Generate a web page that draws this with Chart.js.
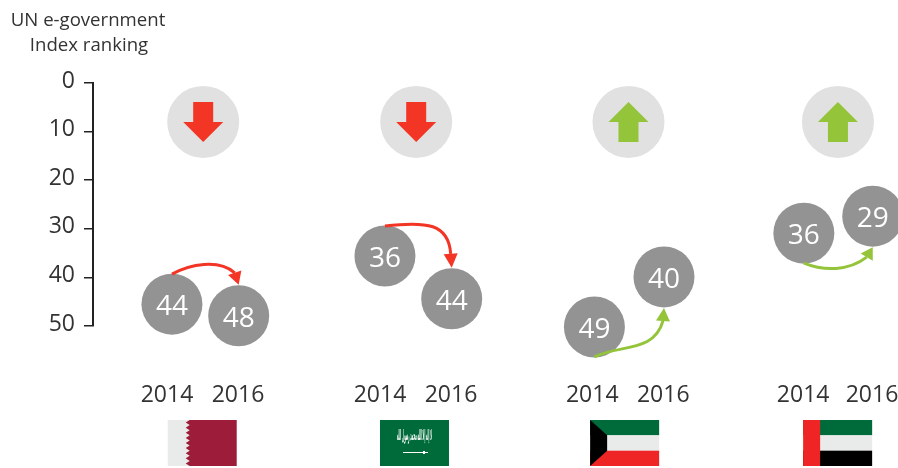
<!DOCTYPE html>
<html>
<head>
<meta charset="utf-8">
<title>UN e-government Index ranking</title>
<script src="https://cdn.jsdelivr.net/npm/chart.js@4/dist/chart.umd.min.js"></script>
<style>
  body { margin: 0; background: #fff; }
  #wrap { width: 898px; height: 468px; }
</style>
</head>
<body>
<div id="wrap"><canvas id="chart" width="898" height="468"></canvas></div>
<script>
const axisTitle = ["UN e-government", "Index ranking"];
const yTicks = [0, 10, 20, 30, 40, 50];
const yearLabels = ["2014", "2016", "2014", "2016", "2014", "2016", "2014", "2016"];
const yearSlots = [0, 1, 3, 4, 5.99, 6.99, 8.96, 9.93];

const countries = ["Qatar", "Saudi Arabia", "Kuwait", "UAE"];
// printed ranks, two per country
const ranks = [44, 48, 36, 44, 49, 40, 36, 29];
// where the circles really sit against the axis in the source (not always on the printed rank)
const plotted = [45.5, 47.9, 35.6, 44.4, 50.2, 39.9, 30.9, 27.4];
const circleSlots = [0.07, 1.01, 3.07, 4.01, 6.02, 7, 8.97, 9.94];

const badgeSlots = [0.51, 3.51, 6.5, 9.45];
const badgeLevel = [8, 8, 8, 8];
const flagSlots = [0.01, 3, 5.96, 8.96];

const RED = "#f23524";
const GREEN = "#93c43a";
const TEXT = "#333333";

// connector shape per country: which side of each circle, then control offsets from each end
const connectors = [
  { from: -1, to: -1, c1: [18, -10], c2: [-16, -14], head: [-4, -12] },
  { from: -1, to: -1, c1: [42, -5], c2: [-2, -30], head: [-1, -14] },
  { from: 1, to: 1, c1: [26, -13], c2: [-9, 32], head: [-1, 13] },
  { from: 1, to: 1, c1: [20, 8], c2: [-18, 14], head: [-6, 10] }
];

const circlePoints = ranks.map((r, i) => ({ x: circleSlots[i], y: plotted[i] }));
const badgePoints = countries.map((c, i) => ({ x: badgeSlots[i], y: badgeLevel[i] }));

function drawBadgeArrow(ctx, cx, cy, down) {
  const s = down ? 1 : -1;
  ctx.fillStyle = down ? RED : GREEN;
  ctx.beginPath();
  ctx.moveTo(cx - 10, cy - 20 * s);
  ctx.lineTo(cx + 10, cy - 20 * s);
  ctx.lineTo(cx + 10, cy);
  ctx.lineTo(cx + 20, cy);
  ctx.lineTo(cx, cy + 20 * s);
  ctx.lineTo(cx - 20, cy);
  ctx.lineTo(cx - 10, cy);
  ctx.closePath();
  ctx.fill();
}

function drawConnector(ctx, a, b, conn, color) {
  const R = 30;
  const sx = a.x, sy = a.y + conn.from * R;
  const tx = b.x, ty = b.y + conn.to * R + conn.to;
  const ex = tx + conn.head[0], ey = ty + conn.head[1];
  ctx.strokeStyle = color;
  ctx.fillStyle = color;
  ctx.lineWidth = 3;
  ctx.beginPath();
  ctx.moveTo(sx, sy);
  ctx.bezierCurveTo(sx + conn.c1[0], sy + conn.c1[1], ex + conn.c2[0], ey + conn.c2[1], ex, ey);
  ctx.stroke();
  // arrow head, pointing from the line end to the circle edge
  const ang = Math.atan2(ty - ey, tx - ex);
  const hw = 7;
  ctx.beginPath();
  ctx.moveTo(tx, ty);
  ctx.lineTo(ex + Math.cos(ang + Math.PI / 2) * hw, ey + Math.sin(ang + Math.PI / 2) * hw);
  ctx.lineTo(ex - Math.cos(ang + Math.PI / 2) * hw, ey - Math.sin(ang + Math.PI / 2) * hw);
  ctx.closePath();
  ctx.fill();
}

function drawFlag(ctx, name, x, y, w, h) {
  const third = h / 3;
  if (name === "Qatar") {
    ctx.fillStyle = "#e9ebea";
    ctx.fillRect(x, y, w, h);
    ctx.fillStyle = "#9d1c3a";
    const teeth = 9, edge = x + 18, step = h / teeth;
    ctx.beginPath();
    ctx.moveTo(x + w, y);
    ctx.lineTo(edge + 4, y);
    for (let i = 0; i < teeth; i++) {
      ctx.lineTo(edge, y + step * (i + 0.5));
      ctx.lineTo(edge + 4, y + step * (i + 1));
    }
    ctx.lineTo(x + w, y + h);
    ctx.closePath();
    ctx.fill();
  } else if (name === "Saudi Arabia") {
    ctx.fillStyle = "#006b3a";
    ctx.fillRect(x, y, w, h);
    ctx.fillStyle = "#fff";
    ctx.font = "bold 15px 'DejaVu Sans'";
    ctx.textAlign = "center";
    ctx.textBaseline = "middle";
    ctx.fillText("لا إله إلا الله محمد رسول الله", x + w / 2, y + 16, 35);
    ctx.fillRect(x + 23, y + 32, 25, 1);
    ctx.fillRect(x + 43, y + 31, 2, 3);
  } else if (name === "Kuwait") {
    ctx.fillStyle = "#006b3a";
    ctx.fillRect(x, y, w, third);
    ctx.fillStyle = "#e9ebea";
    ctx.fillRect(x, y + third, w, third);
    ctx.fillStyle = "#ee2524";
    ctx.fillRect(x, y + 2 * third, w, third);
    ctx.fillStyle = "#000";
    ctx.beginPath();
    ctx.moveTo(x, y);
    ctx.lineTo(x + 17, y + third);
    ctx.lineTo(x + 17, y + 2 * third);
    ctx.lineTo(x, y + h);
    ctx.closePath();
    ctx.fill();
  } else {
    ctx.fillStyle = "#006b3a";
    ctx.fillRect(x, y, w, third);
    ctx.fillStyle = "#e9ebea";
    ctx.fillRect(x, y + third, w, third);
    ctx.fillStyle = "#000";
    ctx.fillRect(x, y + 2 * third, w, third);
    ctx.fillStyle = "#ee2524";
    ctx.fillRect(x, y, 17, h);
  }
}

const extras = {
  id: "extras",
  afterDatasetsDraw(chart) {
    const ctx = chart.ctx;
    const xs = chart.scales.x;
    const pts = chart.getDatasetMeta(1).data;
    const badges = chart.getDatasetMeta(0).data;
    ctx.save();

    ctx.fillStyle = TEXT;
    ctx.font = "18.6px 'Open Sans'";
    ctx.textAlign = "center";
    ctx.textBaseline = "alphabetic";
    ctx.fillText(axisTitle[0], 88, 26);
    ctx.fillText(axisTitle[1], 89, 51);

    countries.forEach((name, i) => {
      const a = pts[i * 2], b = pts[i * 2 + 1];
      const down = ranks[i * 2 + 1] > ranks[i * 2];
      drawBadgeArrow(ctx, badges[i].x, badges[i].y, down);
      drawConnector(ctx, a, b, connectors[i], down ? RED : GREEN);
    });

    ctx.fillStyle = "#fff";
    ctx.font = "28px 'Open Sans'";
    ctx.textAlign = "center";
    ctx.textBaseline = "middle";
    pts.forEach((p, i) => ctx.fillText(String(ranks[i]), p.x, p.y + 3));

    countries.forEach((name, i) => {
      drawFlag(ctx, name, xs.getPixelForValue(flagSlots[i]), 420, 69, 46);
    });
    ctx.restore();
  }
};

new Chart(document.getElementById("chart"), {
  type: "scatter",
  data: {
    datasets: [
      {
        label: "Direction",
        data: badgePoints,
        pointRadius: 36,
        pointHoverRadius: 36,
        pointBackgroundColor: "#e1e1e1",
        pointBorderWidth: 0,
        clip: false
      },
      {
        label: "UN e-government Index ranking",
        data: circlePoints,
        pointRadius: 30.5,
        pointHoverRadius: 30.5,
        pointBackgroundColor: "#939393",
        pointBorderWidth: 0,
        clip: false
      }
    ]
  },
  options: {
    responsive: false,
    animation: false,
    events: [],
    // big points would otherwise shrink the plot area
    layout: { autoPadding: false, padding: { top: 83, left: 0, right: 0, bottom: 0 } },
    plugins: {
      legend: { display: false },
      tooltip: { enabled: false },
      title: { display: false }
    },
    scales: {
      x: {
        type: "linear",
        min: -1.042,
        max: 10.296,
        afterFit(scale) {
          scale.height = 142;
          // year labels may run to the canvas edge, so no room is kept for them
          scale.paddingLeft = 0;
          scale.paddingRight = 0;
        },
        afterBuildTicks(scale) { scale.ticks = yearSlots.map(v => ({ value: v })); },
        grid: { display: false },
        border: { display: false },
        ticks: {
          autoSkip: false,
          maxRotation: 0,
          padding: 48,
          color: TEXT,
          font: { family: "'Open Sans'", size: 23 },
          callback: (v) => yearLabels[yearSlots.indexOf(v)]
        }
      },
      y: {
        reverse: true,
        min: 0,
        max: 50,
        afterFit(scale) { scale.width = 93; },
        afterBuildTicks(scale) { scale.ticks = yTicks.map(v => ({ value: v })); },
        grid: { drawOnChartArea: false, tickLength: 9, color: "#222", lineWidth: 1.5 },
        border: { color: "#222", width: 2 },
        ticks: {
          padding: 9,
          labelOffset: -2,
          color: TEXT,
          font: { family: "'Open Sans'", size: 23 }
        }
      }
    }
  },
  plugins: [extras]
});
</script>
</body>
</html>
